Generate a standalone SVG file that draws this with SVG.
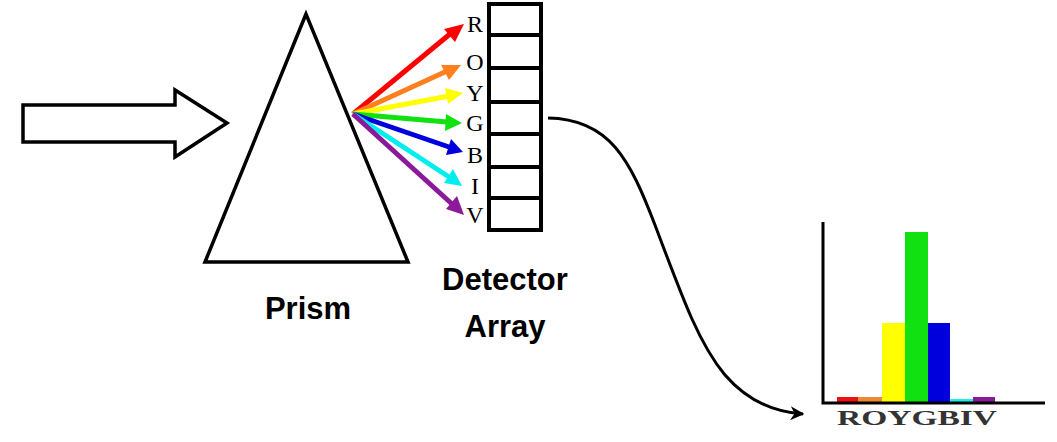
<svg xmlns="http://www.w3.org/2000/svg" width="1057" height="442" viewBox="0 0 1057 442">
<style>
.ln{fill:none;stroke:#000;stroke-width:3.5;stroke-linejoin:miter}
.ray{stroke-width:5;fill:none}
.lbl{font-family:"Liberation Sans",Arial,sans-serif;font-weight:bold;font-size:31px;fill:#000;text-anchor:middle}
.let{font-family:"Liberation Serif","Times New Roman",serif;font-size:24px;fill:#000;text-anchor:middle}
</style>
<defs>
<marker id="ah" viewBox="0 0 10 10" refX="9" refY="5" markerWidth="14" markerHeight="14" markerUnits="userSpaceOnUse" orient="auto"><path d="M0,0 L10,5 L0,10 L3,5 Z" fill="#000"/></marker>
</defs>
<g id="input-arrow"><path class="ln" d="M23,105 L175,105 L175,90 L227,123 L175,157 L175,142 L23,142 Z"/></g>
<g id="prism"><path class="ln" d="M306,14 L205,262 L408,262 Z"/><text class="lbl" x="308" y="319">Prism</text></g>
<g id="rays">
<g class="ray" stroke="#ff0000"><line x1="353" y1="114" x2="450" y2="34"/><path d="M464,24 L444,29 L455,42 Z" fill="#ff0000" stroke="none"/></g>
<g class="ray" stroke="#ff7f1e"><line x1="353" y1="114" x2="447" y2="71"/><path d="M461,65 L441,65 L449,80 Z" fill="#ff7f1e" stroke="none"/></g>
<g class="ray" stroke="#ffff00"><line x1="353" y1="114" x2="449" y2="96"/><path d="M463,93 L445,88 L448,104 Z" fill="#ffff00" stroke="none"/></g>
<g class="ray" stroke="#11e011"><line x1="353" y1="114" x2="447" y2="122"/><path d="M462,123 L446,114 L445,131 Z" fill="#11e011" stroke="none"/></g>
<g class="ray" stroke="#0000dd"><line x1="353" y1="114" x2="449" y2="147"/><path d="M463,152 L451,139 L446,155 Z" fill="#0000dd" stroke="none"/></g>
<g class="ray" stroke="#00eeee"><line x1="353" y1="114" x2="449" y2="177"/><path d="M462,186 L453,169 L444,183 Z" fill="#00eeee" stroke="none"/></g>
<g class="ray" stroke="#8a1a9a"><line x1="353" y1="114" x2="452" y2="204"/><path d="M464,215 L457,196 L446,209 Z" fill="#8a1a9a" stroke="none"/></g>
</g>
<g id="detector">
<rect x="489" y="4" width="52" height="226" fill="#fff" stroke="#000" stroke-width="4"/>
<path d="M489,35H541M489,68H541M489,102H541M489,134H541M489,167H541M489,198H541" stroke="#000" stroke-width="4"/>
<text class="let" x="475" y="32">R</text>
<text class="let" x="475" y="70">O</text>
<text class="let" x="475" y="101">Y</text>
<text class="let" x="475" y="131">G</text>
<text class="let" x="475" y="163">B</text>
<text class="let" x="475" y="194">I</text>
<text class="let" x="475" y="223">V</text>
<text class="lbl" x="505" y="290">Detector</text>
<text class="lbl" x="505" y="337">Array</text>
</g>
<g id="connectors"><path d="M548,118 C610,119 630,160 655,225 C685,305 700,345 725,375 C745,398 770,412 803,414" fill="none" stroke="#000" stroke-width="3" marker-end="url(#ah)"/></g>
<g id="chart">
<rect x="837" y="397" width="21" height="6" fill="#ee1111"/>
<rect x="858" y="397" width="24" height="6" fill="#ee8833"/>
<rect x="882" y="323" width="23" height="80" fill="#ffff00"/>
<rect x="905" y="232" width="23" height="171" fill="#11e011"/>
<rect x="928" y="323" width="22" height="80" fill="#0000dd"/>
<rect x="950" y="399" width="23" height="4" fill="#22eeee"/>
<rect x="973" y="397" width="22" height="6" fill="#8a1a9a"/>
<path d="M823,222 V403 H1045" fill="none" stroke="#000" stroke-width="3"/>
<text x="837" y="425" font-family="Liberation Serif,'Times New Roman',serif" font-size="21" font-weight="bold" fill="#333" textLength="160" lengthAdjust="spacingAndGlyphs">ROYGBIV</text>
</g>
</svg>
